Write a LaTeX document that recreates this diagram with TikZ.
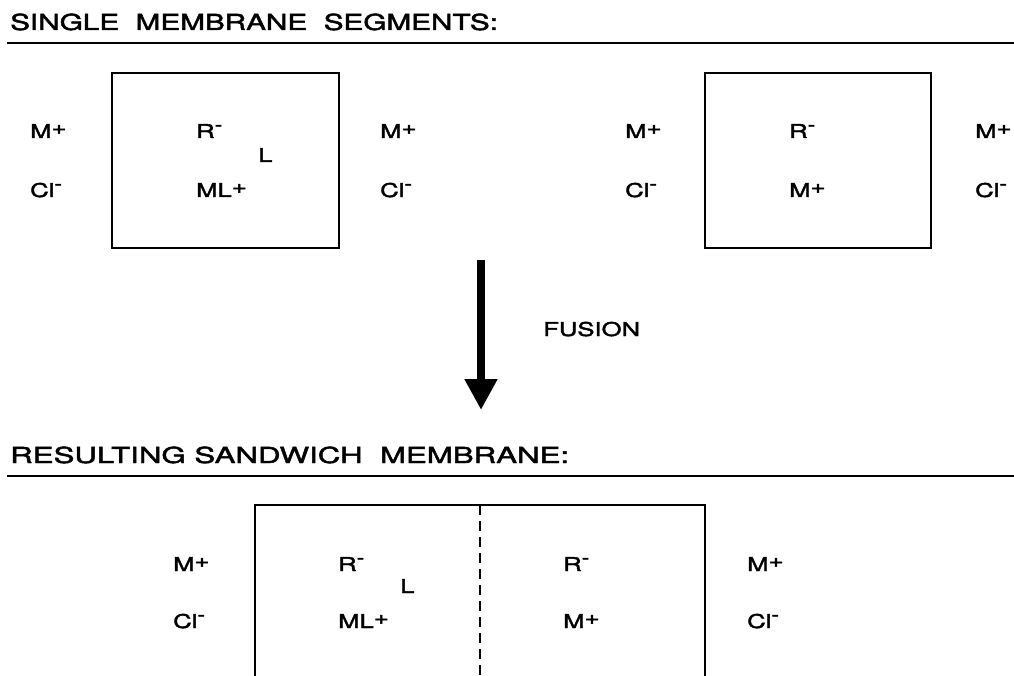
\documentclass[tikz,border=0pt]{standalone}
\usepackage{fontspec}
\setmainfont{TeX Gyre Heros}[FakeStretch=1.35,FakeBold=2.2]
\newfontfamily\widehv{TeX Gyre Heros}[FakeStretch=1.42,FakeBold=2.2]
\usetikzlibrary{arrows.meta}
\newcommand\pl{\raisebox{0.2em}{+}}
\newcommand\mi{\raisebox{0.4em}{\fontsize{17}{17}\selectfont -}}
\begin{document}
\begin{tikzpicture}[x=1pt,y=-1pt,
  lbl/.style={anchor=base west, inner sep=0pt, font=\fontsize{19}{21}\selectfont},
  hdr/.style={anchor=base west, inner sep=0pt, font=\fontsize{22}{24}\selectfont},
  mbox/.style={draw, line width=2pt, inner sep=0pt},
  rule/.style={line width=1.8pt},
  border/.style={line width=2pt},
  fusearrow/.style={line width=8pt, -{Triangle[width=31pt,length=31pt]}}]
\useasboundingbox (0,0) rectangle (1014,676);
% headers
\node[hdr] (h1) at (10,30) {SINGLE\ \ MEMBRANE\ \ SEGMENTS:};
\coordinate (h1l) at (7,43); \coordinate (h1r) at (1014,43);
\draw[rule] (h1l) -- (h1r);
\node[hdr, font=\fontsize{22}{24}\widehv] (h2) at (10,463) {RESULTING SANDWICH\ \ MEMBRANE:};
\coordinate (h2l) at (7,476); \coordinate (h2r) at (1014,476);
\draw[rule] (h2l) -- (h2r);
% top-left segment
\node[mbox, minimum width=227pt, minimum height=175pt] (boxA) at (225.5,160.5) {};
\node[lbl] (aM1) at (30,138) {M\pl};
\node[lbl] (aC1) at (30,197) {Cl\mi};
\node[lbl] (aR) at (196,138) {R\mi};
\node[lbl] (aL) at (258,162) {L};
\node[lbl] (aML) at (196,197) {ML\pl};
\node[lbl] (aM2) at (380,138) {M\pl};
\node[lbl] (aC2) at (380,197) {Cl\mi};
% top-right segment
\node[mbox, minimum width=226pt, minimum height=175pt] (boxB) at (818,160.5) {};
\node[lbl] (bM1) at (625,138) {M\pl};
\node[lbl] (bC1) at (625,197) {Cl\mi};
\node[lbl] (bR) at (789,138) {R\mi};
\node[lbl] (bM) at (789,197) {M\pl};
\node[lbl] (bM2) at (975,138) {M\pl};
\node[lbl] (bC2) at (975,197) {Cl\mi};
% fusion arrow
\coordinate (fa) at (481,260); \coordinate (fb) at (481,410);
\draw[fusearrow] (fa) -- (fb);
\node[lbl, font=\fontsize{19}{21}\selectfont] (fus) at (543,336) {FUSION};
% sandwich membrane
\coordinate (sbl) at (255,680); \coordinate (str) at (705,505); \coordinate (sbr) at (705,680);
\draw[border] (sbl) |- (str) -- (sbr);
\coordinate (dt) at (480,505); \coordinate (db) at (480,680);
\draw[border, dash pattern=on 10pt off 6pt] (dt) -- (db);
\node[lbl] (cM1) at (173,571) {M\pl};
\node[lbl] (cC1) at (173,628) {Cl\mi};
\node[lbl] (cR1) at (338,571) {R\mi};
\node[lbl] (cL) at (400,593) {L};
\node[lbl] (cML) at (338,628) {ML\pl};
\node[lbl] (cR2) at (563,571) {R\mi};
\node[lbl] (cM) at (563,628) {M\pl};
\node[lbl] (cM2) at (747,571) {M\pl};
\node[lbl] (cC2) at (747,628) {Cl\mi};
\end{tikzpicture}
\end{document}
